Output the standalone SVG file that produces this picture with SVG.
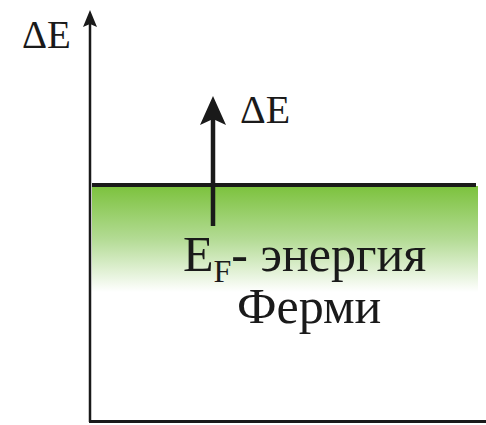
<svg xmlns="http://www.w3.org/2000/svg" width="486" height="425" viewBox="0 0 486 425">
<defs>
<linearGradient id="g" x1="0" y1="0" x2="0" y2="1">
<stop offset="0" stop-color="#7cc23d"/>
<stop offset="0.5" stop-color="#b3db94"/>
<stop offset="1" stop-color="#ffffff"/>
</linearGradient>
</defs>
<g id="band">
<rect x="92" y="186" width="386" height="106" fill="url(#g)"/>
<line x1="92" y1="185" x2="476" y2="185" stroke="#1a1a1a" stroke-width="4"/>
</g>
<g id="axes" stroke="#1a1a1a" fill="none">
<line x1="90" y1="422" x2="90" y2="22" stroke-width="2.5"/>
<path d="M90,10 L97,27 L90,24 L83,27 z" fill="#1a1a1a" stroke="none"/>
<line x1="89" y1="421.5" x2="486" y2="421.5" stroke-width="3"/>
</g>
<g id="connectors">
<line x1="213" y1="226" x2="213" y2="118" stroke="#1a1a1a" stroke-width="4.5"/>
<path d="M213,96 L226,125 L213,119 L200,125 z" fill="#1a1a1a"/>
</g>
<g id="labels" fill="#1a1a1a">
<text x="22" y="48" font-size="39" font-family="Times New Roman">ΔE</text>
<text x="240" y="123" font-size="40" font-family="Times New Roman">ΔE</text>
<text x="183" y="271" font-size="50" font-family="Times New Roman">E<tspan font-size="32" dy="11">F</tspan><tspan dy="-11">- энергия</tspan></text>
<text x="237" y="323" font-size="50" font-family="Times New Roman">Ферми</text>
</g>
</svg>
